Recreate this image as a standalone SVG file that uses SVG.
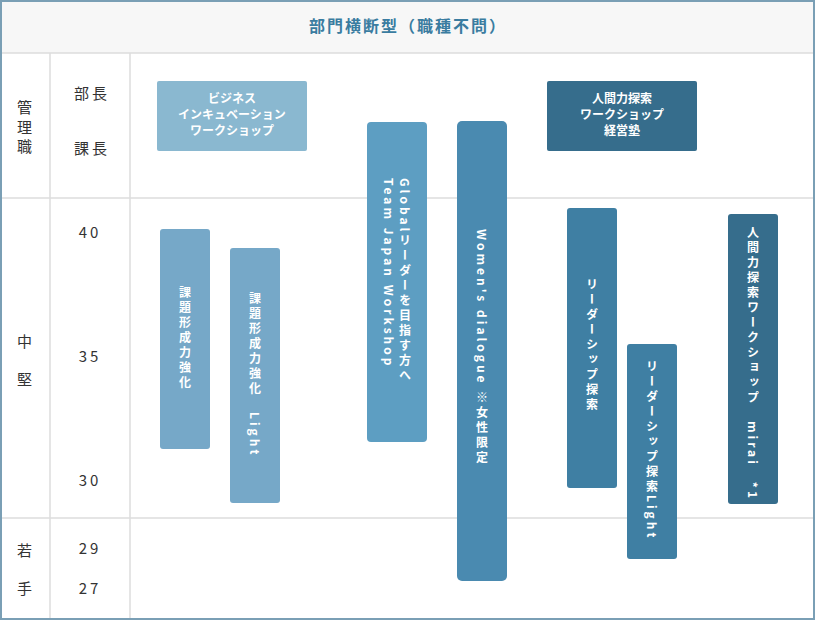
<svg xmlns="http://www.w3.org/2000/svg" width="815" height="620" viewBox="0 0 815 620">
<style>
.lbl{font-family:"Noto Sans CJK JP","Noto Sans",sans-serif;font-size:15px;fill:#333;text-anchor:middle;letter-spacing:3px}
.bt{font-family:"Noto Sans CJK JP","Noto Sans",sans-serif;font-size:12px;font-weight:bold;fill:#fff;text-anchor:middle}
.vt{font-family:"Noto Sans CJK JP","Noto Sans",sans-serif;font-size:12px;font-weight:bold;fill:#fff;writing-mode:vertical-rl;letter-spacing:3px}
.grid{stroke:#ddd;stroke-width:1.5;fill:none}
</style>
<rect x="1" y="1" width="813" height="618" fill="#fff" stroke="#7a9fb5" stroke-width="2"/>
<rect x="2" y="2" width="811" height="51" fill="#f7f7f7"/>
<g class="grid">
<line x1="2" y1="53" x2="813" y2="53"/>
<line x1="50" y1="53" x2="50" y2="618"/>
<line x1="130" y1="53" x2="130" y2="618"/>
<line x1="2" y1="198" x2="813" y2="198"/>
<line x1="2" y1="518" x2="813" y2="518"/>
</g>
<text x="408" y="32" font-family="Noto Sans CJK JP,sans-serif" font-size="16" font-weight="bold" fill="#3a7ca0" text-anchor="middle" letter-spacing="2">部門横断型（職種不問）</text>
<g id="labels">
<text class="lbl" x="26" y="113">管</text><text class="lbl" x="26" y="133">理</text><text class="lbl" x="26" y="152">職</text>
<text class="lbl" x="92" y="99">部長</text><text class="lbl" x="92" y="154">課長</text>
<text class="lbl" x="26" y="347">中</text><text class="lbl" x="26" y="385">堅</text>
<text class="lbl" x="26" y="556">若</text><text class="lbl" x="26" y="594">手</text>
<text class="lbl" x="90" y="238">40</text><text class="lbl" x="90" y="362">35</text><text class="lbl" x="90" y="486">30</text>
<text class="lbl" x="90" y="554">29</text><text class="lbl" x="90" y="594">27</text>
</g>
<g id="n1"><rect x="157" y="81" width="150" height="70" rx="2" fill="#8ab8d0"/>
<text class="bt" x="232" y="103">ビジネス</text><text class="bt" x="232" y="119">インキュベーション</text><text class="bt" x="232" y="135">ワークショップ</text></g>
<g id="n2"><rect x="547" y="81" width="150" height="70" rx="2" fill="#366d8c"/>
<text class="bt" x="622" y="103">人間力探索</text><text class="bt" x="622" y="119">ワークショップ</text><text class="bt" x="622" y="135">経営塾</text></g>
<g id="n3"><rect x="160" y="229" width="50" height="220" rx="3" fill="#76a8c8"/><text class="vt" x="185" y="286">課題形成力強化</text></g>
<g id="n4"><rect x="230" y="248" width="50" height="255" rx="3" fill="#76a8c8"/><text class="vt" x="255" y="292">課題形成力強化　Light</text></g>
<g id="n5"><rect x="367" y="122" width="60" height="320" rx="4" fill="#5d9ec2"/><text class="vt" x="405" y="178">Globalリーダーを目指す方へ</text><text class="vt" x="389" y="178">Team Japan Workshop</text></g>
<g id="n6"><rect x="457" y="121" width="50" height="460" rx="5" fill="#4a8ab0"/><text class="vt" x="482" y="229">Women's dialogue ※女性限定</text></g>
<g id="n7"><rect x="567" y="208" width="50" height="280" rx="3" fill="#3f7fa3"/><text class="vt" x="592" y="278">リーダーシップ探索</text></g>
<g id="n8"><rect x="627" y="344" width="50" height="215" rx="3" fill="#3f7fa3"/><text class="vt" x="652" y="360">リーダーシップ探索Light</text></g>
<g id="n9"><rect x="728" y="214" width="50" height="290" rx="3" fill="#366d8c"/><text class="vt" x="753" y="226">人間力探索ワークショップ　mirai　*1</text></g>
<g id="connectors"/>
</svg>
